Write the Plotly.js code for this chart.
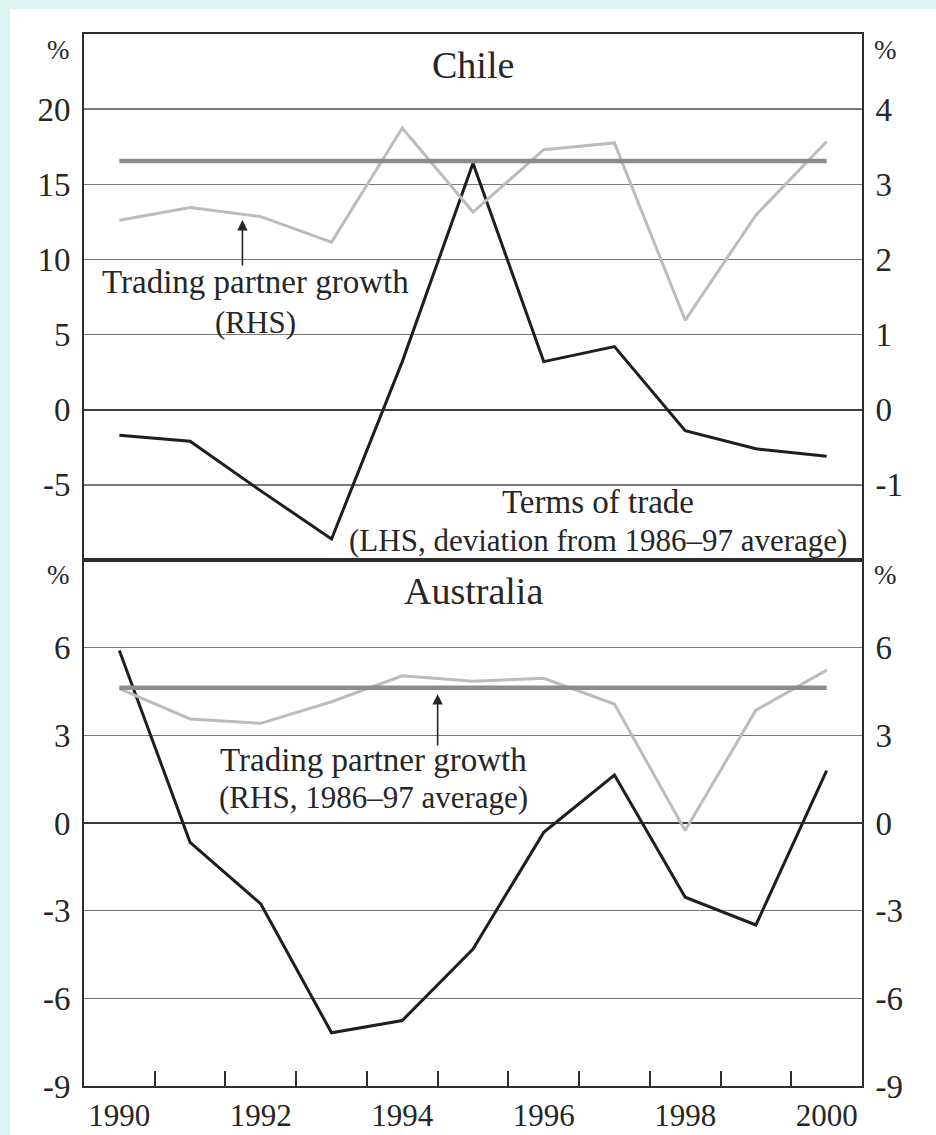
<!DOCTYPE html>
<html>
<head>
<meta charset="utf-8">
<script src="https://cdn.plot.ly/plotly-3.0.1.min.js"></script>
<style>
  html, body { margin: 0; padding: 0; background: #dcf5f2; width: 936px; height: 1135px; overflow: hidden; }
  #chart { position: absolute; left: 10px; top: 9px; width: 926px; height: 1126px; background: #ffffff; }
</style>
</head>
<body>
<div id="chart"></div>
<script>
// Years (annual observations, plotted at the centre of each year)
const years = [1990, 1991, 1992, 1993, 1994, 1995, 1996, 1997, 1998, 1999, 2000];
const yearLabels = ['1990', '1992', '1994', '1996', '1998', '2000'];
const yearLabelVals = [1990, 1992, 1994, 1996, 1998, 2000];

// Chile
const chileTermsOfTrade = [-1.7, -2.1, -5.4, -8.6, 3.2, 16.4, 3.2, 4.2, -1.4, -2.6, -3.1];   // LHS, %
const chilePartnerGrowth = [2.52, 2.69, 2.57, 2.23, 3.75, 2.63, 3.46, 3.55, 1.19, 2.59, 3.57]; // RHS, %
const chilePartnerAvg = 3.31;                                                                  // RHS, 1986–97 average

// Australia
const ausTermsOfTrade = [5.9, -0.66, -2.77, -7.18, -6.76, -4.31, -0.32, 1.64, -2.54, -3.49, 1.79];
const ausPartnerGrowth = [4.6, 3.56, 3.41, 4.15, 5.04, 4.85, 4.95, 4.07, -0.26, 3.86, 5.23];
const ausPartnerAvg = 4.63;

// Axis tick labels
const chileLeftTicks = [-5, 0, 5, 10, 15, 20];
const chileLeftText = ['-5', '0', '5', '10', '15', '20'];
const chileRightTicks = [-1, 0, 1, 2, 3, 4];
const chileRightText = ['-1', '0', '1', '2', '3', '4'];
const ausTicks = [-9, -6, -3, 0, 3, 6];
const ausText = ['-9', '-6', '-3', '0', '3', '6'];

const SERIF = 'Liberation Serif, Times New Roman, serif';
const INK = '#262626';
const TOT_COLOR = '#1e1e1e';
const TPG_COLOR = '#bcbcbc';
const AVG_COLOR = '#8c8c8c';

const firstLast = [years[0], years[years.length - 1]];
// Year boundaries for the small inside tick marks
const yearEdges = years.slice(0, -1).map(y => y + 0.5);

const traces = [
  // Chile
  { x: years, y: chilePartnerGrowth, xaxis: 'x', yaxis: 'y2', mode: 'lines',
    line: { color: TPG_COLOR, width: 3 }, name: 'Chile trading partner growth' },
  { x: firstLast, y: [chilePartnerAvg, chilePartnerAvg], xaxis: 'x', yaxis: 'y2', mode: 'lines',
    line: { color: AVG_COLOR, width: 4.5 }, name: 'Chile trading partner growth, average' },
  { x: years, y: chileTermsOfTrade, xaxis: 'x', yaxis: 'y', mode: 'lines',
    line: { color: TOT_COLOR, width: 3 }, name: 'Chile terms of trade' },
  // Australia
  { x: years, y: ausPartnerGrowth, xaxis: 'x2', yaxis: 'y4', mode: 'lines',
    line: { color: TPG_COLOR, width: 3 }, name: 'Australia trading partner growth' },
  { x: firstLast, y: [ausPartnerAvg, ausPartnerAvg], xaxis: 'x2', yaxis: 'y4', mode: 'lines',
    line: { color: AVG_COLOR, width: 4.5 }, name: 'Australia trading partner growth, average' },
  { x: years, y: ausTermsOfTrade, xaxis: 'x2', yaxis: 'y3', mode: 'lines',
    line: { color: TOT_COLOR, width: 3 }, name: 'Australia terms of trade' }
];

const tickFont = { family: SERIF, size: 33, color: INK };
const xTickFont = { family: SERIF, size: 31, color: INK };
const lineCol = '#2e2e2e';

const baseY = {
  showline: true, linecolor: lineCol, linewidth: 2,
  ticks: '', tickfont: tickFont, tickmode: 'array',
  ticklabelstandoff: 5, fixedrange: true
};

const layout = {
  width: 926, height: 1126,
  margin: { l: 74, r: 74, t: 25, b: 49, pad: 0 },
  paper_bgcolor: '#ffffff', plot_bgcolor: '#ffffff',
  showlegend: false, hovermode: false,
  xaxis: {
    domain: [0, 1], anchor: 'y', matches: 'x2', range: [1989.5, 2000.5],
    showline: true, mirror: true, linecolor: lineCol, linewidth: 2.2,
    showgrid: false, zeroline: false, ticks: '', showticklabels: false
  },
  xaxis2: {
    domain: [0, 1], anchor: 'y3', range: [1989.5, 2000.5],
    showline: true, mirror: true, linecolor: lineCol, linewidth: 2.2,
    showgrid: false, zeroline: false,
    tickmode: 'array', tickvals: yearLabelVals, ticktext: yearLabels,
    ticks: '', tickfont: xTickFont, ticklabelstandoff: 1,
    minor: { tickmode: 'array', tickvals: yearEdges, ticks: 'inside', ticklen: 15,
             tickwidth: 2, tickcolor: lineCol, showgrid: false }
  },
  yaxis: Object.assign({}, baseY, {
    domain: [0.5, 1], anchor: 'x', side: 'left', range: [-10, 25],
    tickvals: chileLeftTicks, ticktext: chileLeftText,
    showgrid: true, gridcolor: '#7a7a7a', gridwidth: 1.5,
    zeroline: true, zerolinecolor: '#3c3c3c', zerolinewidth: 1.8
  }),
  yaxis2: Object.assign({}, baseY, {
    overlaying: 'y', anchor: 'x', side: 'right', range: [-2, 5],
    tickvals: chileRightTicks, ticktext: chileRightText,
    showgrid: false, zeroline: false
  }),
  yaxis3: Object.assign({}, baseY, {
    domain: [0, 0.5], anchor: 'x2', side: 'left', range: [-9, 9],
    tickvals: ausTicks, ticktext: ausText,
    showgrid: true, gridcolor: '#7a7a7a', gridwidth: 1.5,
    zeroline: true, zerolinecolor: '#3c3c3c', zerolinewidth: 1.8
  }),
  yaxis4: Object.assign({}, baseY, {
    overlaying: 'y3', anchor: 'x2', side: 'right', range: [-9, 9],
    tickvals: ausTicks, ticktext: ausText,
    showgrid: false, zeroline: false
  }),
  annotations: []
};

const txt = (text, x, y, xref, yref, size, extra) => Object.assign({
  text: text, x: x, y: y, xref: xref, yref: yref,
  xanchor: 'center', yanchor: 'middle', showarrow: false,
  font: { family: SERIF, size: size, color: INK }
}, extra || {});

layout.annotations.push(
  // Panel titles
  txt('Chile', 0.5, 0.9705, 'paper', 'paper', 38),
  txt('Australia', 0.5, 0.4705, 'paper', 'paper', 38),
  // Units
  txt('%', -0.0334, 0.9848, 'paper', 'paper', 27),
  txt('%', 1.0308, 0.9848, 'paper', 'paper', 27),
  txt('%', -0.0334, 0.4857, 'paper', 'paper', 27),
  txt('%', 1.0308, 0.4857, 'paper', 'paper', 27),
  // Chile labels
  txt('Trading partner growth', 1991.92, 8.53, 'x', 'y', 33),
  txt('(RHS)', 1991.92, 5.83, 'x', 'y', 31),
  txt('Terms of trade', 1996.77, -6.11, 'x', 'y', 33),
  txt('(LHS, deviation from 1986–97 average)', 1996.77, -8.69, 'x', 'y', 31),
  // Australia labels
  txt('Trading partner growth', 1993.59, 2.15, 'x2', 'y3', 33),
  txt('(RHS, 1986–97 average)', 1993.59, 0.86, 'x2', 'y3', 31),
  // Pointer arrows
  { text: '', x: 1991.74, y: 2.525, xref: 'x', yref: 'y2',
    ax: 1991.74, ay: 1.90, axref: 'x', ayref: 'y2',
    showarrow: true, arrowhead: 2, arrowsize: 1.3, arrowwidth: 1.6, arrowcolor: INK, standoff: 0 },
  { text: '', x: 1994.5, y: 4.41, xref: 'x2', yref: 'y4',
    ax: 1994.5, ay: 2.6, axref: 'x2', ayref: 'y4',
    showarrow: true, arrowhead: 2, arrowsize: 1.3, arrowwidth: 1.6, arrowcolor: INK, standoff: 0 }
);

Plotly.newPlot('chart', traces, layout, { staticPlot: true, displayModeBar: false });
</script>
</body>
</html>
